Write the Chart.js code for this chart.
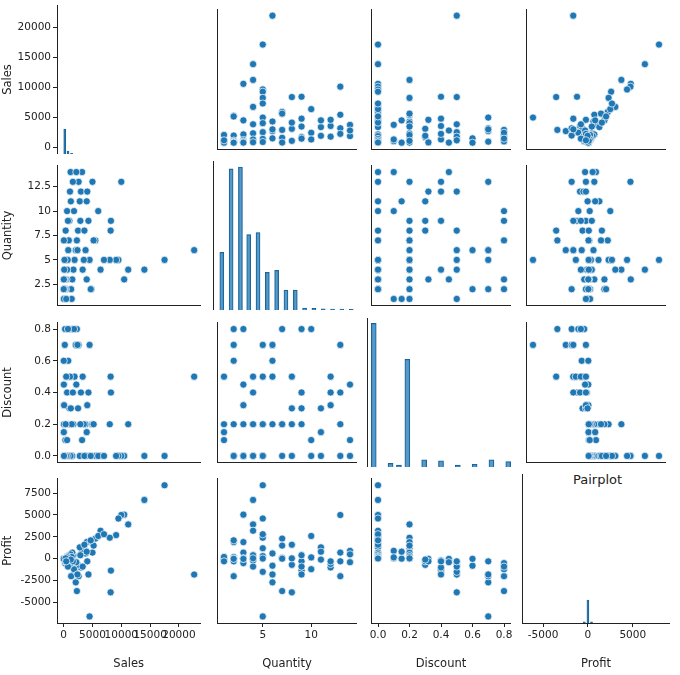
<!DOCTYPE html>
<html>
<head>
<meta charset="utf-8">
<script src="https://cdn.jsdelivr.net/npm/chart.js@4.4.1/dist/chart.umd.min.js"></script>
<style>
  body { margin: 0; background: #fff; }
  #wrap { position: relative; width: 680px; height: 675px; }
  canvas { position: absolute; }
  #title { position: absolute; left: 573px; top: 472px; font: 13px "DejaVu Sans"; color: #222; }
</style>
</head>
<body>
<div id="wrap"><div id="title">Pairplot</div></div>
<script>
// records (sales, quantity, discount, profit)
const sales = [22638,17500,14000,11200,10500,10000,9500,9100,8200,8150,8000,6400,5500,4800,4500,4300,4000,3800,3500,3200,
  3000,2800,2500,2300,2100,1900,1700,1500,1300,1200,1000,900,800,700,600,500,400,300,250,200,150,100,80,60,50,40,30,20,
  5000,6000,4000,2600,1800,1100,3600,2900,7000,1400,4100,2200,600,350,1600,3300,5200,2400,1250,750,450,4700];
const quantity = [6,5,4,4,3,13,5,5,9,8,5,4,7,2,5,9,3,6,5,14,12,11,8,7,6,5,4,3,2,14,9,7,6,5,4,3,2,1,3,2,5,4,3,2,7,3,1,2,
  13,10,11,13,10,12,8,9,5,1,12,14,10,8,13,4,7,6,11,9,1,2];
const discount = [0.5,0,0,0.2,0,0,0,0,0.4,0.5,0.2,0,0,0.2,0.7,0.4,0,0.2,0.2,0.1,0.4,0,0.3,0.8,0.7,0.5,0.2,0,0.8,0,0.3,0.2,
  0.6,0,0.4,0.2,0,0.1,0.8,0.7,0.2,0,0.32,0,0.2,0.45,0.15,0.6,0.2,0,0.15,0.7,0.8,0.5,0,0.2,0,0.2,0.32,0.45,0.1,0.2,0.4,0.5,
  0.2,0.7,0.3,0.8,0.5,0];
const profit = [-1811,8400,6720,3920,5040,5000,4600,2700,-1360,-3840,2400,3200,2300,1900,-6600,-1800,1900,600,1200,900,
  -1000,1300,-700,-3700,-2700,-1500,400,700,-2000,500,-300,100,-800,300,-200,60,190,50,-500,-300,20,45,-10,25,5,-20,5,-15,
  700,2600,800,-2000,-1200,-600,1600,400,2800,200,-300,-400,150,40,-300,-900,1500,-1800,-100,-900,-300,2100];

// diagonal histograms (bin centre, relative height)
const salesHistX = [150, 700, 1300]; const salesHistY = [1, 0.12, 0.03];
const qtyHistX = [1.2, 2.1, 3.0, 3.8, 4.7, 5.6, 6.5, 7.4, 8.3, 9.2, 10.1, 11.0, 11.9, 12.8, 13.7];
const qtyHistY = [2.9, 7.1, 7.2, 3.8, 3.9, 1.9, 2.0, 1.0, 1.0, 0.1, 0.08, 0.06, 0.05, 0.05, 0.04];
const discHistX = [0, 0.1, 0.15, 0.2, 0.3, 0.4, 0.5, 0.6, 0.7, 0.8];
const discHistY = [0.8, 0.02, 0.01, 0.6, 0.04, 0.035, 0.01, 0.015, 0.04, 0.03];
const profitHistX = [0, -400, 400]; const profitHistY = [1, 0.05, 0.05];

const names = ['Sales', 'Quantity', 'Discount', 'Profit'];
const cols = [sales, quantity, discount, profit];
const ranges = [[-1150, 23700], [0.35, 14.65], [-0.04, 0.84], [-7350, 9150]];
const ticksY = [[0,5000,10000,15000,20000], [2.5,5,7.5,10,12.5], [0,0.2,0.4,0.6,0.8], [-5000,-2500,0,2500,5000,7500]];
const ticksX = [[0,5000,10000,15000,20000], [5,10], [0,0.2,0.4,0.6,0.8], [-5000,0,5000]];
const hists = [[salesHistX, salesHistY, 6, 2], [qtyHistX, qtyHistY, 7.5, 4], [discHistX, discHistY, 0.83, 5], [profitHistX, profitHistY, 6.5, 2]];

const lefts = [57, 213, 367, 522], tops = [5, 161, 318, 474], W = 148, H = 149;
const blue = '#1f77b4';
Chart.defaults.font.family = 'DejaVu Sans';
Chart.defaults.color = '#222';
Chart.defaults.animation = false;

function fmt(v, i) {
  if (i === 2) return v.toFixed(1);
  if (i === 1) return v % 1 ? v.toFixed(1) : String(v);
  return String(v);
}

function axis(i, pos, outer, tickList, size) {
  return {
    type: 'linear', position: pos, min: ranges[i][0], max: ranges[i][1], offset: false,
    afterBuildTicks: s => { s.ticks = tickList.map(v => ({ value: v })); },
    afterFit: s => {
      if (pos === 'left') s.width = size; else s.height = size;
      s.paddingTop = 0; s.paddingBottom = 0; s.paddingLeft = 0; s.paddingRight = 0;
    },
    grid: { display: outer, drawOnChartArea: false, offset: false, tickLength: 4, color: '#222' },
    border: { display: true, color: '#222', width: 1 },
    ticks: { display: outer, font: { size: 10.5 }, padding: 2, maxRotation: 0, minRotation: 0, autoSkip: false,
      callback: v => fmt(v, i) },
    title: { display: outer, text: names[i], font: { size: 11.5 }, padding: { top: 1, bottom: 2 } }
  };
}

for (let r = 0; r < 4; r++) {
  for (let c = 0; c < 4; c++) {
    const yExtra = c === 0 ? 57 : 0, xExtra = r === 3 ? 50 : 0;
    const cv = document.createElement('canvas');
    cv.style.left = (lefts[c] - yExtra) + 'px';
    cv.style.top = tops[r] + 'px';
    cv.style.width = (W + yExtra) + 'px';
    cv.style.height = (H + xExtra) + 'px';
    cv.width = W + yExtra; cv.height = H + xExtra;
    document.getElementById('wrap').appendChild(cv);

    const scales = {
      x: axis(c, 'bottom', r === 3, ticksX[c], xExtra),
      y: axis(r, 'left', c === 0, ticksY[r], yExtra)
    };
    let cfg;
    if (r === c) {
      const h = hists[c];
      scales.yh = { display: false, min: 0, max: h[2] };
      cfg = { type: 'bar', data: { datasets: [{
        data: h[0].map((x, k) => ({ x: x, y: h[1][k] })), yAxisID: 'yh',
        backgroundColor: 'rgba(31,119,180,0.75)', borderColor: '#1a5f8f', borderWidth: 0.6, barThickness: h[3]
      }] } };
    } else {
      cfg = { type: 'scatter', data: { datasets: [{
        data: cols[c].map((x, k) => ({ x: x, y: cols[r][k] })),
        backgroundColor: blue, borderColor: '#fff', borderWidth: 0.7, pointRadius: 3.6
      }] } };
    }
    cfg.options = {
      responsive: false, layout: { padding: 0 },
      plugins: { legend: { display: false }, tooltip: { enabled: false } },
      scales: scales
    };
    new Chart(cv, cfg);
  }
}
</script>
</body>
</html>
